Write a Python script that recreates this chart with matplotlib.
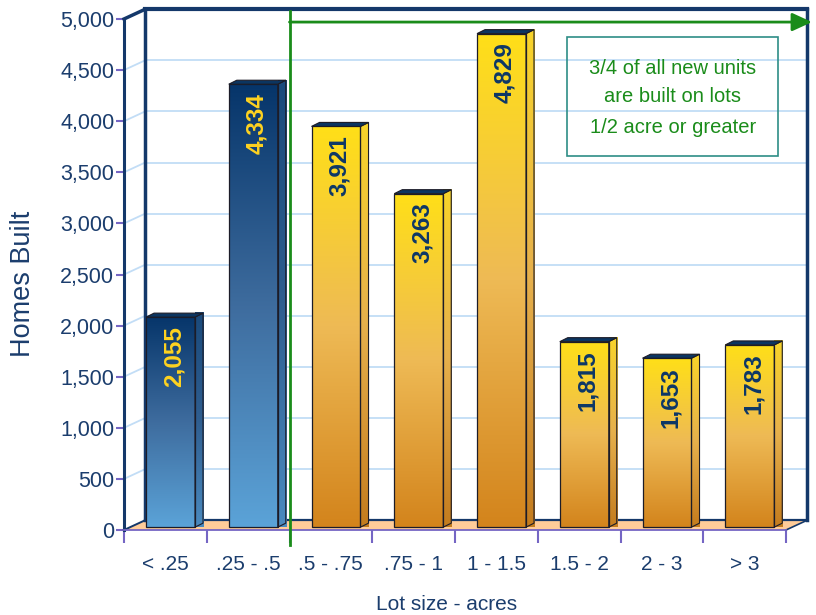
import numpy as np
import matplotlib
matplotlib.use('Agg')
import matplotlib.pyplot as plt
from matplotlib.patches import Polygon, Rectangle, FancyArrowPatch
from matplotlib.colors import LinearSegmentedColormap
from matplotlib.ticker import FuncFormatter, FixedLocator
from matplotlib import font_manager

# ---------------- data ----------------
categories = ['< .25', '.25 - .5', '.5 - .75', '.75 - 1', '1 - 1.5', '1.5 - 2', '2 - 3', '> 3']
homes_built = [2055, 4334, 3921, 3263, 4829, 1815, 1653, 1783]
bar_group = ['small', 'small', 'large', 'large', 'large', 'large', 'large', 'large']
y_ticks = [0, 500, 1000, 1500, 2000, 2500, 3000, 3500, 4000, 4500, 5000]
note_lines = ['3/4 of all new units', 'are built on lots', '1/2 acre or greater']
split_at = 2  # boundary between lot groups (category index)

# ---------------- style ----------------
NAVY = '#14386A'
TXT = '#1B3D6D'
PURPLE = '#7566C4'
GRID = '#C2DDF6'
GREEN = '#1A8C1A'
FLOOR = '#FFCC99'
TOPFACE = '#0B3561'

avail = {f.name for f in font_manager.fontManager.ttflist}
TICKFONT = 'Liberation Sans' if 'Liberation Sans' in avail else 'DejaVu Sans'
if 'Liberation Sans Narrow' in avail:
    LBLFONT = dict(family='Liberation Sans Narrow', fontsize=20)
else:
    LBLFONT = dict(family=TICKFONT, fontsize=17.5)

front_grad = {
    'small': ['#5BA3D8', '#3E6C9E', '#06356A'],
    'large': ['#D3841C', '#EEBA55', '#FFDF18'],
}
side_grad = {
    'small': ['#4A8ABF', '#2F5E90', '#1A4A7C'],
    'large': ['#C47C1E', '#E6B04C', '#F8D42A'],
}
label_color = {'small': '#FFD320', 'large': '#0D3767'}

# depth geometry (data units)
DX, DY = 0.254, 95          # wall depth
BDX, BDY = 0.062, 28        # bar placement into depth
SDX, SDY = 0.097, 39        # bar thickness
BAR_L, BAR_W = 0.204, 0.592

fig = plt.figure(figsize=(8.16, 6.15), dpi=100)
ax = fig.add_axes([124 / 816, 85 / 615, 662 / 816, 511 / 615])
ax.set_xlim(0, len(categories))
ax.set_ylim(0, 5000)
ax.set_facecolor('none')

n = len(categories)
ymax = y_ticks[-1]

# floor
ax.add_patch(Polygon([(0, 0), (n, 0), (n + DX, DY), (DX, DY)], closed=True,
                     facecolor=FLOOR, edgecolor='none', zorder=1, clip_on=False))
ax.plot([DX, n + DX], [DY, DY], color=NAVY, lw=1.6, zorder=2, clip_on=False)
ax.plot([0, DX], [0, DY], color=NAVY, lw=1.4, zorder=2, clip_on=False)
ax.plot([n, n + DX], [0, DY], color=NAVY, lw=1.2, zorder=2, clip_on=False)

# grid lines on back and side walls
for v in y_ticks[1:-1]:
    ax.plot([DX, n + DX], [v + DY, v + DY], color=GRID, lw=1.3, zorder=0.5, clip_on=False)
    ax.plot([0, DX], [v, v + DY], color=GRID, lw=1.3, zorder=0.5, clip_on=False)

# wall frame
ax.plot([DX, n + DX], [ymax + DY, ymax + DY], color=NAVY, lw=3, zorder=2, clip_on=False,
        solid_capstyle='projecting')
ax.plot([DX, DX], [DY, ymax + DY], color=NAVY, lw=2.5, zorder=2, clip_on=False)
ax.plot([n + DX, n + DX], [DY, ymax + DY], color=NAVY, lw=2.5, zorder=2, clip_on=False)
ax.plot([0, DX], [ymax, ymax + DY], color=NAVY, lw=2.5, zorder=2, clip_on=False)


def gradient(x0, x1, y0, y1, stops, clip_patch, z):
    cmap = LinearSegmentedColormap.from_list('g', stops)
    grad = np.linspace(0, 1, 256).reshape(-1, 1)
    im = ax.imshow(grad, cmap=cmap, extent=(x0, x1, y0, y1), origin='lower',
                   aspect='auto', zorder=z, interpolation='bilinear', clip_on=False)
    im.set_clip_path(clip_patch)


for i, (val, grp) in enumerate(zip(homes_built, bar_group)):
    xl = i + BAR_L + BDX
    xr = xl + BAR_W
    base = BDY
    top = base + val
    z = 3 + i * 0.01
    # front face
    front = Rectangle((xl, base), BAR_W, val, facecolor='none', edgecolor='#1C1C28',
                      lw=0.9, zorder=z + 0.005, clip_on=False)
    ax.add_patch(front)
    gradient(xl, xr, base, top, front_grad[grp], front, z)
    # side face
    side = Polygon([(xr, base), (xr + SDX, base + SDY), (xr + SDX, top + SDY), (xr, top)],
                   closed=True, facecolor='none', edgecolor='#1C1C28', lw=0.8,
                   zorder=z + 0.005, clip_on=False)
    ax.add_patch(side)
    gradient(xr, xr + SDX, base, top + SDY, side_grad[grp], side, z)
    # top face
    ax.add_patch(Polygon([(xl, top), (xr, top), (xr + SDX, top + SDY), (xl + SDX, top + SDY)],
                         closed=True, facecolor=TOPFACE, edgecolor='#1C1C28', lw=0.8,
                         zorder=z + 0.006, clip_on=False))
    # value label
    ax.text(xl + BAR_W / 2 + 0.04, top - 85, f'{val:,}', rotation=90, ha='center', va='top',
            fontweight='bold', color=label_color[grp], zorder=5, **LBLFONT)

# green divider and arrow
ax.plot([split_at, split_at], [ymax + DY - 15, -150], color=GREEN, lw=2, zorder=6, clip_on=False)
ax.add_patch(FancyArrowPatch((split_at, 4970), (n + 0.314, 4970),
                             arrowstyle='-|>,head_length=1.2,head_width=0.55', mutation_scale=10,
                             color=GREEN, lw=2, shrinkA=0, shrinkB=0, zorder=6, clip_on=False))

# note box
ax.add_patch(Rectangle((5.35, 3659), 2.55, 1165, facecolor='none', edgecolor='#2E8E86',
                       lw=1.2, zorder=6))
for line, yv in zip(note_lines, [4520, 4237, 3943]):
    ax.text(6.63, yv, line, ha='center', va='center', fontsize=14.5, color=GREEN,
            family=TICKFONT, zorder=7)

# axes styling
for s in ['top', 'right']:
    ax.spines[s].set_visible(False)
ax.spines['left'].set_color(NAVY)
ax.spines['left'].set_linewidth(2.2)
ax.spines['left'].set_zorder(4)
ax.spines['bottom'].set_color(PURPLE)
ax.spines['bottom'].set_linewidth(1.3)
ax.spines['bottom'].set_zorder(4)

ax.yaxis.set_major_locator(FixedLocator(y_ticks))
ax.yaxis.set_major_formatter(FuncFormatter(lambda v, p: f'{int(v):,}'))
ax.tick_params(axis='y', direction='out', length=6, width=1.5, color=PURPLE, pad=1,
               labelsize=15.5, labelcolor=TXT)
ax.set_xticks(np.arange(0, n + 1))
ax.set_xticklabels([])
ax.set_xticks(np.arange(n) + 0.5, minor=True)
ax.set_xticklabels(categories, minor=True)
ax.tick_params(axis='x', which='major', direction='out', length=9, width=1.5, color=PURPLE)
ax.tick_params(axis='x', which='minor', length=0, pad=18, labelsize=15, labelcolor=TXT)
for lbl in ax.get_xticklabels(minor=True) + ax.get_yticklabels():
    lbl.set_family(TICKFONT)

fig.text(23 / 816, 1 - 284 / 615, 'Homes Built', rotation=90, ha='center', va='center',
         fontsize=19.5, color=TXT, family=TICKFONT)
fig.text(447 / 816, 1 - 604 / 615, 'Lot size - acres', ha='center', va='center',
         fontsize=15, color=TXT, family=TICKFONT)

fig.savefig('out.png', dpi=100)
